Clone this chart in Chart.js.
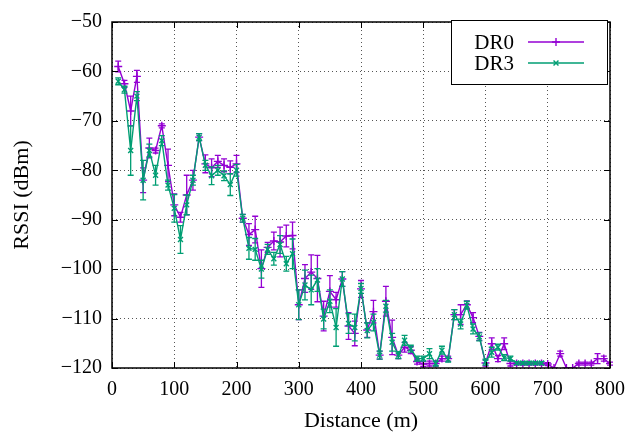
<!DOCTYPE html>
<html>
<head>
<meta charset="utf-8">
<script src="https://cdn.jsdelivr.net/npm/chart.js@4.4.0/dist/chart.umd.min.js"></script>
<style>
html, body { margin: 0; padding: 0; background: #fff; }
#wrap { width: 639px; height: 435px; }
</style>
</head>
<body>
<div id="wrap"><canvas id="chart_rssiDistance"></canvas></div>
<script>
var distances = [10, 20, 30, 40, 50, 60, 70, 80, 90, 100, 110, 120, 130, 140, 150, 160, 170, 180, 190, 200,
    210, 220, 230, 240, 250, 260, 270, 280, 290, 300, 310, 320, 330, 340, 350, 360, 370, 380, 390, 400,
    410, 420, 430, 440, 450, 460, 470, 480, 490, 500, 510, 520, 530, 540, 550, 560, 570, 580, 590, 600,
    610, 620, 630, 640, 650, 660, 670, 680, 690, 700, 710, 720, 730, 740, 750, 760, 770, 780, 790, 800];

var dr0Rssi = [-59, -62.5, -68, -61, -82, -75.5, -76, -71, -79, -87, -89.5, -85, -82, -73.3, -78.7, -79.5, -78.2, -79, -79.4, -78.7,
    -89.7, -93, -92, -99.9, -95.6, -94.3, -94.5, -93.3, -93.2, -107.2, -101.9, -100.6, -101.9, -109.5, -104.5, -106.2, -102, -111.5, -113, -104,
    -112.3, -108.6, -117.4, -106.5, -113.8, -117.4, -115.8, -116.4, -118.7, -119.2, -119.1, -119.1, -118.1, -118.1, -109.2, -109.2, -107.2, -109.8, -113.6, -119,
    -115.1, -118.1, -115.1, -119.1, -119.1, -119.1, -119.1, -119.1, -119.1, -119.2, -120, -117.1, -120, -120, -119.1, -119.1, -119.1, -118.1, -118.1, -119.1];
var dr0Err = [1.1, 0.7, 3, 1.2, 2.5, 2, 0.5, 0.4, 3.3, 2.2, 1, 4, 2, 0.7, 1.8, 1.8, 1.2, 1.3, 1.3, 1.7,
    0.8, 2.2, 2.7, 3.8, 1, 1.8, 3, 2.2, 2.7, 3, 2.8, 3.5, 4.7, 3, 3.2, 1.5, 1.5, 2.7, 2.5, 1.7,
    1.5, 2.3, 0.8, 3, 3.5, 0.7, 1, 0.7, 0.5, 0.5, 0.5, 0.5, 0.5, 0.5, 1, 2, 0.8, 1, 0.8, 0.6,
    1.2, 0.6, 1.2, 0.5, 0.3, 0.3, 0.3, 0.3, 0.3, 0.3, 0, 0.5, 0, 0, 0.3, 0.3, 0.3, 1, 0.5, 0.3];

var dr3Rssi = [-62, -63.7, -76, -65, -82, -76, -81, -74, -83, -87.7, -94, -87, -82, -73.3, -79, -81.1, -80, -81.1, -82.9, -80,
    -89.7, -95.8, -96, -100, -96, -97.9, -95, -98.9, -96.9, -107.2, -103.2, -104.2, -102.2, -110.1, -106.5, -111.8, -102, -111, -111.8, -103.9,
    -112.4, -110.8, -117.4, -107.5, -114.8, -117.4, -114.4, -116.1, -118.1, -118.1, -117.1, -119.1, -116.4, -118.3, -109.2, -111.1, -107.3, -112.1, -113.7, -118.8,
    -116.8, -115.8, -117.9, -118.1, -119, -119, -119, -119, -119];
var dr3Err = [0.7, 0.7, 5, 0.9, 4, 1.3, 2, 1, 1, 2.8, 2.8, 2, 1, 0.7, 1, 1.8, 1, 1, 2.2, 1.2,
    0.8, 2.2, 2.2, 1.8, 1, 1.3, 1.8, 1.5, 3, 3, 3, 3, 2.3, 2, 2.3, 3.8, 1.5, 2, 2.7, 1,
    1.5, 1.7, 0.8, 1.2, 1.8, 0.7, 1, 0.7, 0.5, 0.5, 1, 0.5, 0.8, 0.5, 1, 1, 0.8, 1, 0.8, 0.6,
    1, 0.6, 0.6, 0.5, 0.3, 0.3, 0.3, 0.3, 0.3];

var seriesLabels = ['DR0', 'DR3'];
var seriesColors = ['#9400d3', '#009e73'];

var serif = '"Liberation Serif", "Times New Roman", serif';

function toPoints(xs, ys) {
    var out = [];
    for (var i = 0; i < ys.length; i++) out.push({x: xs[i], y: ys[i]});
    return out;
}

function fmtTick(v) {
    return v < 0 ? '\u2212' + (-v) : '' + v;
}

var errorsByDataset = [dr0Err, dr3Err];

var chart_rssiDistance = new Chart(document.getElementById('chart_rssiDistance'), {
    type: 'line',
    data: {
        datasets: [
            {
                label: seriesLabels[0],
                data: toPoints(distances, dr0Rssi),
                borderColor: seriesColors[0],
                backgroundColor: seriesColors[0],
                borderWidth: 1.4,
                pointStyle: 'cross',
                pointRadius: 4,
                pointBorderWidth: 1.4,
                pointHoverRadius: 4,
                tension: 0,
                order: 1
            },
            {
                label: seriesLabels[1],
                data: toPoints(distances, dr3Rssi),
                borderColor: seriesColors[1],
                backgroundColor: seriesColors[1],
                borderWidth: 1.4,
                pointStyle: 'crossRot',
                pointRadius: 3.5,
                pointBorderWidth: 1.4,
                pointHoverRadius: 3.5,
                tension: 0,
                order: 0
            }
        ]
    },
    options: {
        animation: false,
        responsive: true,
        maintainAspectRatio: false,
        layout: {
            padding: {left: 0, top: 15, right: 29, bottom: 0}
        },
        plugins: {
            legend: {display: false},
            tooltip: {enabled: false}
        },
        scales: {
            x: {
                type: 'linear',
                min: 0,
                max: 800,
                afterFit: function(s) { s.height = 67; },
                ticks: {
                    stepSize: 100,
                    padding: 10,
                    color: '#000',
                    font: {family: serif, size: 20},
                    maxRotation: 0,
                    callback: fmtTick
                },
                grid: {color: '#555', lineWidth: 1, drawTicks: false},
                border: {display: false, dash: [1, 3]},
                title: {
                    display: true,
                    text: 'Distance (m)',
                    color: '#000',
                    font: {family: serif, size: 22},
                    padding: {top: 0, bottom: 1}
                }
            },
            y: {
                type: 'linear',
                min: -120,
                max: -50,
                afterFit: function(s) { s.width = 112; },
                ticks: {
                    stepSize: 10,
                    padding: 10,
                    color: '#000',
                    font: {family: serif, size: 20},
                    callback: fmtTick
                },
                grid: {color: '#555', lineWidth: 1, drawTicks: false},
                border: {display: false, dash: [1, 3]},
                title: {
                    display: true,
                    text: 'RSSI (dBm)',
                    color: '#000',
                    font: {family: serif, size: 22},
                    padding: {top: 9, bottom: 0}
                }
            }
        }
    },
    plugins: [{
        id: 'whiteBackground',
        beforeDraw: (chart) => {
            const ctx = chart.ctx;
            ctx.save();
            ctx.fillStyle = 'white';
            ctx.fillRect(0, 0, chart.width, chart.height);
            ctx.restore();
        }
    }, {
        id: 'errorBars',
        beforeDatasetDraw: (chart, args) => {
            const ctx = chart.ctx;
            const ds = chart.data.datasets[args.index];
            const errs = errorsByDataset[args.index];
            const xs = chart.scales.x, ys = chart.scales.y;
            ctx.save();
            ctx.strokeStyle = ds.borderColor;
            ctx.lineWidth = 1.3;
            ds.data.forEach((p, i) => {
                const e = errs[i];
                if (!e) return;
                const px = xs.getPixelForValue(p.x);
                const y1 = ys.getPixelForValue(Math.max(p.y - e, -120));
                const y2 = ys.getPixelForValue(p.y + e);
                ctx.beginPath();
                ctx.moveTo(px, y1); ctx.lineTo(px, y2);
                ctx.moveTo(px - 3, y1); ctx.lineTo(px + 3, y1);
                ctx.moveTo(px - 3, y2); ctx.lineTo(px + 3, y2);
                ctx.stroke();
            });
            ctx.restore();
        }
    }, {
        id: 'frameAndLegend',
        afterDraw: (chart) => {
            const ctx = chart.ctx;
            const a = chart.chartArea;
            const xs = chart.scales.x, ys = chart.scales.y;
            ctx.save();
            ctx.strokeStyle = '#000';
            ctx.lineWidth = 1;
            ctx.beginPath();
            xs.ticks.forEach(t => {
                const px = Math.round(xs.getPixelForValue(t.value)) + 0.5;
                ctx.moveTo(px, a.bottom); ctx.lineTo(px, a.bottom - 6);
                ctx.moveTo(px, a.top); ctx.lineTo(px, a.top + 6);
            });
            ys.ticks.forEach(t => {
                const py = Math.round(ys.getPixelForValue(t.value)) + 0.5;
                ctx.moveTo(a.left, py); ctx.lineTo(a.left + 6, py);
                ctx.moveTo(a.right, py); ctx.lineTo(a.right - 6, py);
            });
            ctx.stroke();
            ctx.lineWidth = 1.5;
            ctx.strokeRect(a.left, a.top, a.right - a.left, a.bottom - a.top);

            // key box
            const bx = 451, by = 20, bw = 156, bh = 64;
            ctx.fillStyle = '#fff';
            ctx.fillRect(bx, by, bw, bh);
            ctx.lineWidth = 1;
            ctx.strokeRect(bx + 0.5, by + 0.5, bw, bh);
            ctx.font = '21px ' + serif;
            ctx.textAlign = 'right';
            ctx.textBaseline = 'middle';
            const rowsY = [42, 63];
            chart.data.datasets.forEach((ds, i) => {
                const y = rowsY[i];
                ctx.fillStyle = '#000';
                ctx.fillText(ds.label, 514, y + 1);
                ctx.strokeStyle = ds.borderColor;
                ctx.lineWidth = 1.4;
                ctx.beginPath();
                ctx.moveTo(528, y); ctx.lineTo(584, y);
                ctx.stroke();
                Chart.helpers.drawPoint(ctx, {
                    pointStyle: ds.pointStyle,
                    radius: ds.pointRadius,
                    rotation: 0,
                    borderWidth: 1.4
                }, 556, y);
            });
            ctx.restore();
        }
    }]
});
</script>
</body>
</html>
